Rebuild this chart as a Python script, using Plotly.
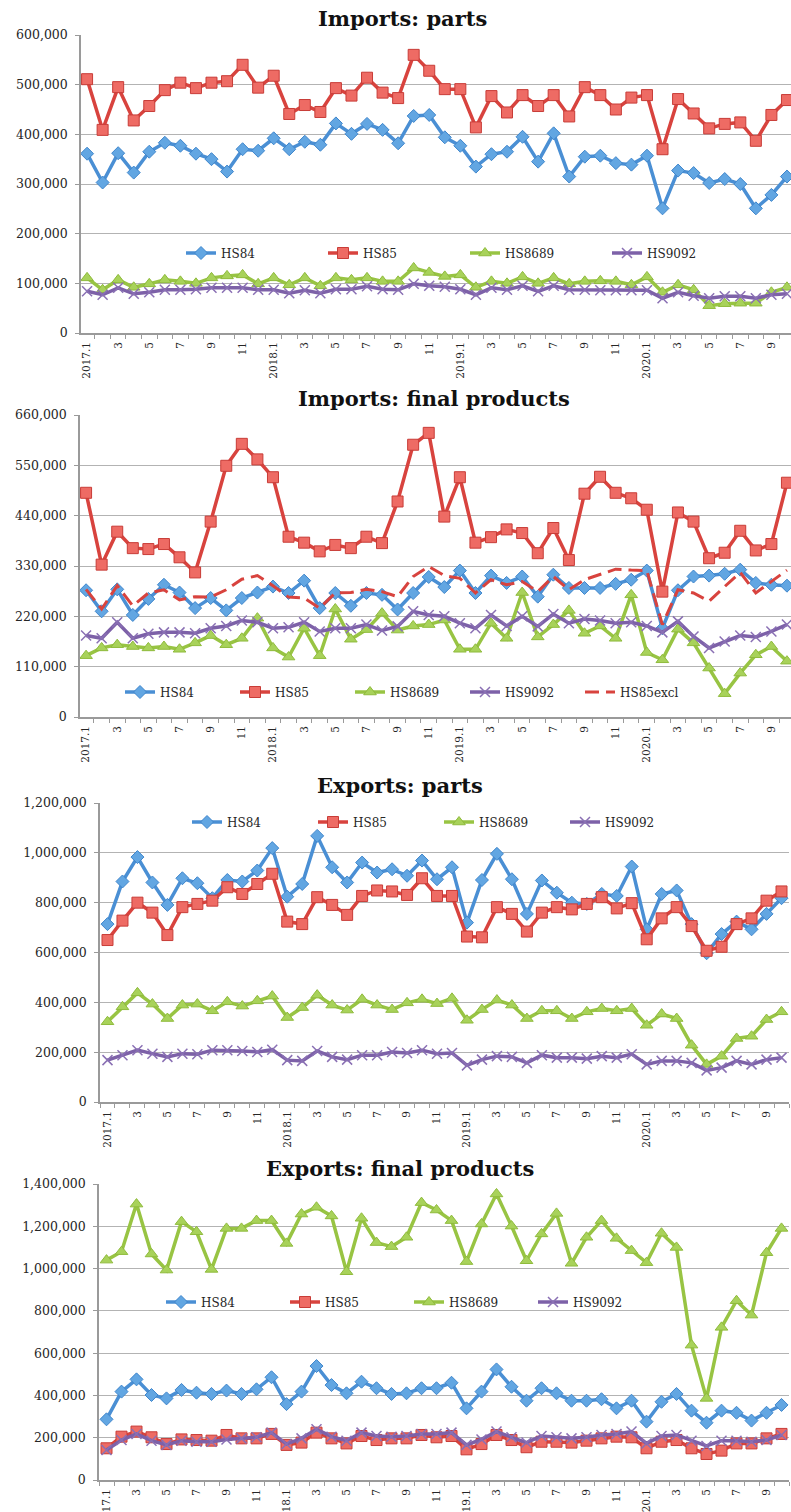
import plotly.graph_objects as go

# ---------------- data ----------------
months = ["2017.1", "2017.2", "2017.3", "2017.4", "2017.5", "2017.6", "2017.7", "2017.8",
          "2017.9", "2017.10", "2017.11", "2017.12",
          "2018.1", "2018.2", "2018.3", "2018.4", "2018.5", "2018.6", "2018.7", "2018.8",
          "2018.9", "2018.10", "2018.11", "2018.12",
          "2019.1", "2019.2", "2019.3", "2019.4", "2019.5", "2019.6", "2019.7", "2019.8",
          "2019.9", "2019.10", "2019.11", "2019.12",
          "2020.1", "2020.2", "2020.3", "2020.4", "2020.5", "2020.6", "2020.7", "2020.8",
          "2020.9", "2020.10"]
# axis label shown under each month (every other month is labelled)
tick_text = ["2017.1", "", "3", "", "5", "", "7", "", "9", "", "11", "",
             "2018.1", "", "3", "", "5", "", "7", "", "9", "", "11", "",
             "2019.1", "", "3", "", "5", "", "7", "", "9", "", "11", "",
             "2020.1", "", "3", "", "5", "", "7", "", "9", ""]

# Imports: parts
imp_parts_hs84 = [361000, 303000, 362000, 323000, 365000, 383000, 377000, 361000, 350000, 325000,
                  370000, 367000, 392000, 370000, 385000, 379000, 422000, 401000, 421000, 409000,
                  382000, 437000, 439000, 394000, 377000, 335000, 360000, 365000, 395000, 345000,
                  402000, 315000, 355000, 357000, 342000, 339000, 357000, 251000, 327000, 322000,
                  302000, 310000, 300000, 251000, 278000, 315000]
imp_parts_hs85 = [511000, 409000, 495000, 428000, 457000, 489000, 504000, 493000, 504000, 507000,
                  540000, 494000, 518000, 441000, 459000, 445000, 493000, 478000, 514000, 484000,
                  473000, 560000, 528000, 491000, 491000, 414000, 477000, 444000, 479000, 457000,
                  479000, 436000, 495000, 479000, 450000, 474000, 479000, 370000, 471000, 442000,
                  412000, 421000, 424000, 387000, 439000, 469000]
imp_parts_hs8689 = [111000, 87000, 107000, 92000, 99000, 107000, 104000, 100000, 111000, 115000,
                    117000, 99000, 111000, 97000, 111000, 95000, 111000, 107000, 111000, 104000,
                    104000, 131000, 122000, 114000, 117000, 92000, 104000, 100000, 113000, 100000,
                    111000, 99000, 104000, 105000, 104000, 97000, 113000, 82000, 97000, 87000,
                    55000, 59000, 60000, 60000, 82000, 92000]
imp_parts_hs9092 = [84000, 77000, 91000, 79000, 82000, 87000, 87000, 88000, 91000, 91000,
                    91000, 87000, 87000, 80000, 86000, 80000, 88000, 88000, 94000, 88000,
                    87000, 99000, 95000, 93000, 88000, 77000, 91000, 87000, 95000, 84000,
                    95000, 87000, 87000, 86000, 86000, 86000, 86000, 70000, 82000, 75000,
                    70000, 74000, 74000, 70000, 77000, 79000]

# Imports: final products
imp_final_hs84 = [277000, 231000, 279000, 223000, 258000, 289000, 272000, 238000, 260000, 233000,
                  260000, 272000, 285000, 271000, 298000, 238000, 271000, 243000, 271000, 267000,
                  235000, 271000, 306000, 284000, 320000, 271000, 309000, 293000, 307000, 263000,
                  311000, 282000, 282000, 282000, 291000, 300000, 320000, 194000, 277000, 307000,
                  309000, 313000, 322000, 293000, 289000, 287000]
imp_final_hs85 = [490000, 333000, 405000, 369000, 367000, 378000, 349000, 316000, 427000, 549000,
                  597000, 563000, 524000, 394000, 381000, 362000, 376000, 369000, 394000, 380000,
                  471000, 595000, 621000, 438000, 524000, 381000, 393000, 410000, 402000, 358000,
                  413000, 343000, 488000, 525000, 490000, 478000, 453000, 274000, 447000, 427000,
                  347000, 359000, 407000, 364000, 378000, 512000]
imp_final_hs8689 = [134000, 151000, 158000, 154000, 151000, 154000, 148000, 162000, 178000, 158000,
                    172000, 216000, 151000, 131000, 194000, 134000, 236000, 170000, 191000, 227000,
                    190000, 199000, 202000, 212000, 148000, 148000, 205000, 172000, 272000, 175000,
                    202000, 233000, 183000, 199000, 172000, 267000, 141000, 125000, 192000, 162000,
                    107000, 51000, 96000, 136000, 154000, 122000]
imp_final_hs9092 = [178000, 172000, 207000, 172000, 182000, 185000, 185000, 183000, 194000, 199000,
                    211000, 207000, 194000, 196000, 207000, 187000, 194000, 194000, 202000, 189000,
                    198000, 231000, 223000, 220000, 205000, 194000, 223000, 199000, 220000, 198000,
                    225000, 205000, 214000, 211000, 205000, 207000, 199000, 185000, 209000, 176000,
                    151000, 165000, 178000, 175000, 187000, 202000]
imp_final_hs85excl = [279000, 236000, 287000, 243000, 271000, 278000, 256000, 263000, 262000, 278000,
                      301000, 309000, 287000, 262000, 260000, 238000, 271000, 272000, 279000, 274000,
                      263000, 307000, 329000, 309000, 303000, 271000, 300000, 289000, 296000, 274000,
                      307000, 278000, 300000, 311000, 323000, 321000, 320000, 202000, 278000, 271000,
                      253000, 285000, 316000, 271000, 296000, 321000]

# Exports: parts
exp_parts_hs84 = [714000, 885000, 983000, 881000, 791000, 898000, 878000, 818000, 891000, 885000,
                  929000, 1019000, 824000, 875000, 1068000, 942000, 881000, 961000, 921000, 934000,
                  908000, 969000, 894000, 942000, 720000, 891000, 996000, 894000, 755000, 889000,
                  840000, 800000, 795000, 835000, 827000, 945000, 693000, 835000, 849000, 714000,
                  597000, 674000, 724000, 693000, 755000, 818000]
exp_parts_hs85 = [650000, 728000, 800000, 760000, 670000, 782000, 795000, 808000, 862000, 835000,
                  875000, 916000, 724000, 714000, 822000, 791000, 751000, 827000, 849000, 845000,
                  831000, 898000, 827000, 827000, 664000, 661000, 782000, 755000, 684000, 760000,
                  782000, 773000, 795000, 822000, 777000, 798000, 653000, 737000, 782000, 706000,
                  607000, 623000, 714000, 737000, 808000, 845000]
exp_parts_hs8689 = [322000, 382000, 438000, 393000, 335000, 389000, 393000, 366000, 402000, 385000,
                    406000, 425000, 339000, 379000, 429000, 389000, 369000, 412000, 389000, 371000,
                    398000, 412000, 395000, 416000, 328000, 371000, 409000, 389000, 335000, 366000,
                    366000, 335000, 362000, 375000, 366000, 375000, 308000, 353000, 335000, 228000,
                    151000, 184000, 255000, 264000, 331000, 362000]
exp_parts_hs9092 = [168000, 188000, 208000, 194000, 181000, 194000, 192000, 208000, 208000, 205000,
                    201000, 210000, 168000, 165000, 205000, 181000, 170000, 188000, 188000, 201000,
                    197000, 208000, 194000, 197000, 147000, 170000, 184000, 181000, 157000, 188000,
                    178000, 178000, 174000, 184000, 178000, 192000, 151000, 165000, 165000, 157000,
                    127000, 138000, 165000, 151000, 170000, 178000]

# Exports: final products
exp_final_hs84 = [287000, 418000, 476000, 402000, 386000, 426000, 413000, 407000, 423000, 407000,
                  429000, 486000, 359000, 418000, 539000, 449000, 410000, 465000, 434000, 407000,
                  410000, 434000, 434000, 460000, 339000, 418000, 523000, 441000, 375000, 434000,
                  410000, 375000, 375000, 382000, 339000, 375000, 276000, 370000, 407000, 328000,
                  271000, 328000, 318000, 281000, 318000, 355000]
exp_final_hs85 = [150000, 205000, 229000, 202000, 170000, 192000, 189000, 186000, 213000, 197000,
                  197000, 218000, 166000, 177000, 224000, 197000, 173000, 208000, 189000, 197000,
                  197000, 213000, 202000, 208000, 145000, 170000, 213000, 189000, 155000, 181000,
                  181000, 177000, 186000, 197000, 205000, 202000, 150000, 181000, 189000, 150000,
                  123000, 139000, 173000, 173000, 197000, 218000]
exp_final_hs8689 = [1040000, 1080000, 1305000, 1069000, 993000, 1222000, 1174000, 996000, 1190000, 1190000,
                    1227000, 1227000, 1119000, 1258000, 1290000, 1249000, 985000, 1238000, 1123000, 1104000,
                    1148000, 1312000, 1277000, 1227000, 1033000, 1211000, 1353000, 1201000, 1037000, 1164000,
                    1261000, 1025000, 1148000, 1227000, 1143000, 1085000, 1028000, 1167000, 1100000, 638000,
                    386000, 722000, 848000, 780000, 1075000, 1190000]
exp_final_hs9092 = [142000, 189000, 218000, 186000, 166000, 186000, 181000, 181000, 192000, 197000,
                    202000, 224000, 170000, 197000, 240000, 205000, 186000, 224000, 208000, 205000,
                    208000, 218000, 218000, 224000, 166000, 192000, 229000, 202000, 177000, 208000,
                    202000, 197000, 202000, 213000, 218000, 229000, 173000, 208000, 213000, 186000,
                    161000, 186000, 186000, 181000, 189000, 213000]

# ---------------- styling ----------------
W, H = 791, 1512
FONT = "DejaVu Serif"
TXT = "#262626"
GRID = "#b3b3b3"
AXIS = "#9a9a9a"


def px(x):
    return x / W


def py(y):
    return 1 - y / H


STYLE = {
    "HS84": dict(line=dict(color="#4a8fd4", width=3.5),
                 marker=dict(symbol="diamond", size=10, color="#62a6e2",
                             line=dict(color="#3f86cc", width=1))),
    "HS85": dict(line=dict(color="#d8433e", width=3.5),
                 marker=dict(symbol="square", size=11, color="#ee6b64",
                             line=dict(color="#c83c37", width=1))),
    "HS8689": dict(line=dict(color="#98c443", width=3.5),
                   marker=dict(symbol="triangle-up", size=11, color="#a8d25a",
                               line=dict(color="#8fbb3c", width=1))),
    "HS9092": dict(line=dict(color="#7d61a8", width=3.5),
                   marker=dict(symbol="x-thin-open", size=10, color="#8a70b4",
                               line=dict(color="#8a70b4", width=1.5))),
    "HS85excl": dict(line=dict(color="#d8433e", width=3, dash="14px,7px")),
}

panels = [
    dict(title="Imports: parts", tcx=402, tcy=19, top=35, bottom=333, left=81, right=791,
         xr=[-0.39, 45.26], ymax=600000, dtick=100000,
         series=[("HS84", imp_parts_hs84), ("HS85", imp_parts_hs85),
                 ("HS8689", imp_parts_hs8689), ("HS9092", imp_parts_hs9092)],
         lx=181, ly=253, ew=97),
    dict(title="Imports: final products", tcx=434, tcy=398, top=415, bottom=717, left=80, right=791,
         xr=[-0.39, 45.26], ymax=660000, dtick=110000,
         series=[("HS84", imp_final_hs84), ("HS85", imp_final_hs85),
                 ("HS8689", imp_final_hs8689), ("HS9092", imp_final_hs9092),
                 ("HS85excl", imp_final_hs85excl)],
         lx=120, ly=692, ew=70),
    dict(title="Exports: parts", tcx=400, tcy=785, top=803, bottom=1102, left=100, right=789,
         xr=[-0.5, 45.5], ymax=1200000, dtick=200000,
         series=[("HS84", exp_parts_hs84), ("HS85", exp_parts_hs85),
                 ("HS8689", exp_parts_hs8689), ("HS9092", exp_parts_hs9092)],
         lx=187, ly=822, ew=81),
    dict(title="Exports: final products", tcx=400, tcy=1168, top=1184, bottom=1480, left=99, right=789,
         xr=[-0.5, 45.5], ymax=1400000, dtick=200000,
         series=[("HS84", exp_final_hs84), ("HS85", exp_final_hs85),
                 ("HS8689", exp_final_hs8689), ("HS9092", exp_final_hs9092)],
         lx=161, ly=1302, ew=79),
]

fig = go.Figure()
annotations = []
layout = {}

for k, p in enumerate(panels):
    n = "" if k == 0 else str(k + 1)
    xa, ya, lg = "x" + n, "y" + n, "legend" + n
    for name, vals in p["series"]:
        st = STYLE[name]
        mode = "lines" if name == "HS85excl" else "lines+markers"
        fig.add_trace(go.Scatter(x=months, y=vals, name=name, mode=mode,
                                 xaxis=xa, yaxis=ya, legend=lg, **st))
    layout["xaxis" + n] = dict(
        domain=[px(p["left"]), px(p["right"])], anchor=ya, type="category",
        categoryorder="array", categoryarray=months, automargin=False,
        range=p["xr"], tickmode="array", tickvals=months, ticktext=tick_text,
        tickson="boundaries",
        tickangle=-90, tickfont=dict(family=FONT, size=10.5, color=TXT),
        showline=True, linecolor=AXIS, linewidth=1.5, showgrid=False, zeroline=False,
        ticks="outside", ticklen=4, tickcolor=AXIS, ticklabelstandoff=3,
        fixedrange=True,
    )
    layout["yaxis" + n] = dict(
        domain=[py(p["bottom"]), py(p["top"])], anchor=xa, automargin=False,
        range=[0, p["ymax"]], dtick=p["dtick"], tick0=0, tickformat=",d",
        tickfont=dict(family=FONT, size=12.5, color=TXT),
        showline=True, linecolor=AXIS, linewidth=1.5,
        showgrid=True, gridcolor=GRID, gridwidth=1, zeroline=False,
        ticks="outside", ticklen=4, tickcolor=AXIS, ticklabelstandoff=5,
        fixedrange=True,
    )
    layout[lg] = dict(
        orientation="h", x=px(p["lx"]), y=py(p["ly"]), xanchor="left", yanchor="middle",
        xref="paper", yref="paper", bgcolor="rgba(0,0,0,0)",
        font=dict(family=FONT, size=12, color=TXT),
        entrywidth=p["ew"], entrywidthmode="pixels", itemwidth=30,
        tracegroupgap=0,
    )
    annotations.append(dict(
        text="<b>" + p["title"] + "</b>", x=px(p["tcx"]), y=py(p["tcy"]),
        xref="paper", yref="paper", xanchor="center", yanchor="middle", showarrow=False,
        font=dict(family=FONT, size=21, color="#111111"),
    ))

fig.update_layout(
    width=W, height=H, margin=dict(l=0, r=0, t=0, b=0, autoexpand=False),
    paper_bgcolor="white", plot_bgcolor="white",
    annotations=annotations, showlegend=True,
    **layout,
)

fig.write_html(
    "out.html",
    config={"displayModeBar": False},
    post_script="document.body.style.margin='0';document.body.style.overflow='hidden';",
)
